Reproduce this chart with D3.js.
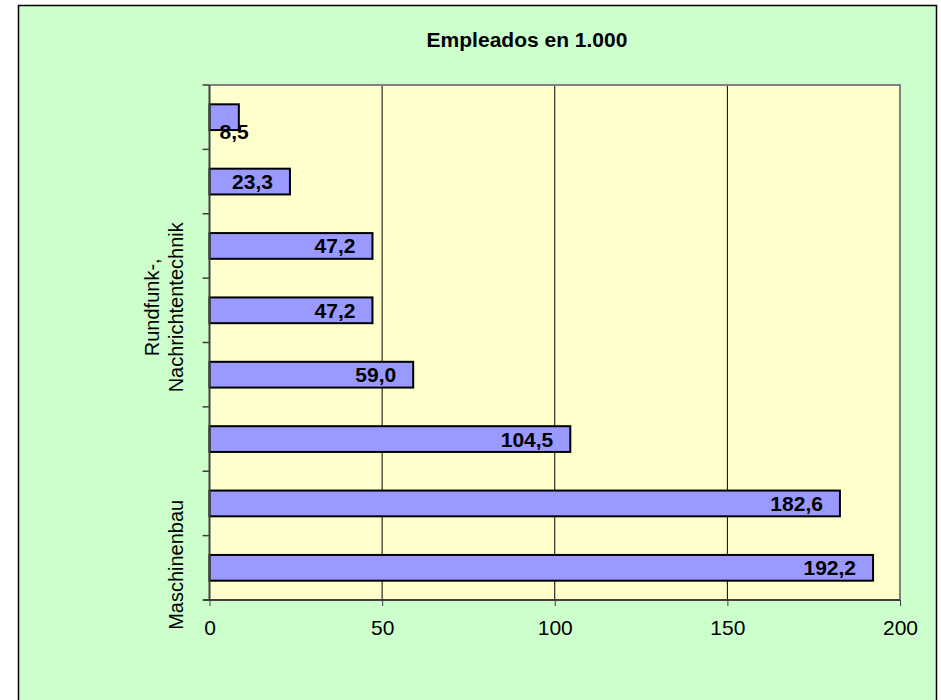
<!DOCTYPE html>
<html>
<head>
<meta charset="utf-8">
<script src="https://cdn.jsdelivr.net/npm/d3@7"></script>
<style>
  html, body { margin: 0; padding: 0; background: #ffffff; }
  svg { display: block; font-family: "Liberation Sans", Arial, sans-serif; }
</style>
</head>
<body>
<svg id="chart" width="941" height="700"></svg>
<script>
// Categories listed bottom-to-top (Excel order); only some labels are shown on the axis
const categories = ["Maschinenbau", "", "", "", "Rundfunk-, Nachrichtentechnik", "", "", ""];
const categoryLines = [["Maschinenbau"], [], [], [], ["Rundfunk-,", "Nachrichtentechnik"], [], [], []];
const values = [192.2, 182.6, 104.5, 59.0, 47.2, 47.2, 23.3, 8.5];
const valueLabels = ["192,2", "182,6", "104,5", "59,0", "47,2", "47,2", "23,3", "8,5"];
const xTicks = [0, 50, 100, 150, 200];
const title = "Empleados en 1.000";

const svg = d3.select("#chart");

// chart area
svg.append("rect")
  .attr("x", 18.5).attr("y", 5.5)
  .attr("width", 918).attr("height", 700)
  .attr("fill", "#CCFFCC").attr("stroke", "#000").attr("stroke-width", 1.5);

const plot = { left: 209.5, right: 900, top: 85, bottom: 600 };

// plot area background
svg.append("rect")
  .attr("x", plot.left).attr("y", plot.top)
  .attr("width", plot.right - plot.left).attr("height", plot.bottom - plot.top)
  .attr("fill", "#FFFFCC");

const x = d3.scaleLinear().domain([0, 200]).range([plot.left, plot.right]);
const idx = d3.range(categories.length);
const y = d3.scaleBand().domain(idx).range([plot.bottom, plot.top]).paddingInner(0.6).paddingOuter(0.3);
const yb = d3.scaleBand().domain(idx).range([plot.bottom, plot.top]);

// gridlines
svg.append("g").selectAll("line")
  .data(xTicks.filter(t => t > 0 && t < 200))
  .join("line")
  .attr("x1", d => x(d)).attr("x2", d => x(d))
  .attr("y1", plot.top).attr("y2", plot.bottom)
  .attr("stroke", "#000").attr("stroke-width", 1);

// plot border top & right (gray)
svg.append("path")
  .attr("d", `M${plot.left},${plot.top}H${plot.right}V${plot.bottom}`)
  .attr("fill", "none").attr("stroke", "#808080").attr("stroke-width", 2);

// bars
svg.append("g").selectAll("rect")
  .data(idx)
  .join("rect")
  .attr("x", x(0))
  .attr("y", i => y(i))
  .attr("width", i => x(values[i]) - x(0))
  .attr("height", y.bandwidth())
  .attr("fill", "#9999FF")
  .attr("stroke", "#000")
  .attr("stroke-width", 2);

// value labels
const lbl = svg.append("g")
  .attr("font-size", 21).attr("font-weight", "bold").attr("fill", "#000");
idx.forEach(i => {
  const t = lbl.append("text").text(valueLabels[i]);
  const w = t.node().getComputedTextLength();
  const cy = y(i) + y.bandwidth() / 2;
  const barW = x(values[i]) - x(0);
  if (w + 20 > barW) {
    t.attr("x", x(0) + 10).attr("y", cy + 22).attr("text-anchor", "start");
  } else {
    t.attr("x", x(values[i]) - 17).attr("y", cy + 7.5).attr("text-anchor", "end");
  }
});

// x axis
const xAxis = svg.append("g")
  .attr("transform", `translate(0,${plot.bottom})`)
  .call(d3.axisBottom(x).tickValues(xTicks).tickSize(6).tickPadding(14).tickFormat(d3.format("d")));
xAxis.select(".domain").attr("stroke", "#404040").attr("stroke-width", 2)
  .attr("d", `M${plot.left - 6},0H${plot.right}`);
xAxis.selectAll(".tick line").attr("stroke", "#404040");
xAxis.selectAll(".tick text")
  .attr("font-size", 21).attr("font-family", "Liberation Sans, Arial, sans-serif").attr("fill", "#000");

// y axis line and ticks at band boundaries
svg.append("line")
  .attr("x1", plot.left).attr("x2", plot.left)
  .attr("y1", plot.top).attr("y2", plot.bottom)
  .attr("stroke", "#404040").attr("stroke-width", 2);
const bounds = idx.map(i => yb(i)).concat([plot.bottom]);
svg.append("g").selectAll("line")
  .data(bounds)
  .join("line")
  .attr("x1", plot.left - 7).attr("x2", plot.left)
  .attr("y1", d => d).attr("y2", d => d)
  .attr("stroke", "#404040").attr("stroke-width", 1.5);

// y category labels (rotated)
idx.forEach(i => {
  const lines = categoryLines[i];
  if (!lines.length) return;
  const cy = yb(i) + yb.bandwidth() / 2 - 3;
  const n = lines.length;
  const g = svg.append("g").attr("transform", `translate(183,${cy}) rotate(-90)`);
  lines.forEach((ln, k) => {
    g.append("text")
      .attr("x", 0).attr("y", -(n - 1 - k) * 24)
      .attr("text-anchor", "middle")
      .attr("font-size", 20).attr("fill", "#000")
      .text(ln);
  });
});

// title
svg.append("text")
  .attr("x", 527).attr("y", 47)
  .attr("text-anchor", "middle")
  .attr("font-size", 21).attr("font-weight", "bold").attr("fill", "#000")
  .text(title);
</script>
</body>
</html>
